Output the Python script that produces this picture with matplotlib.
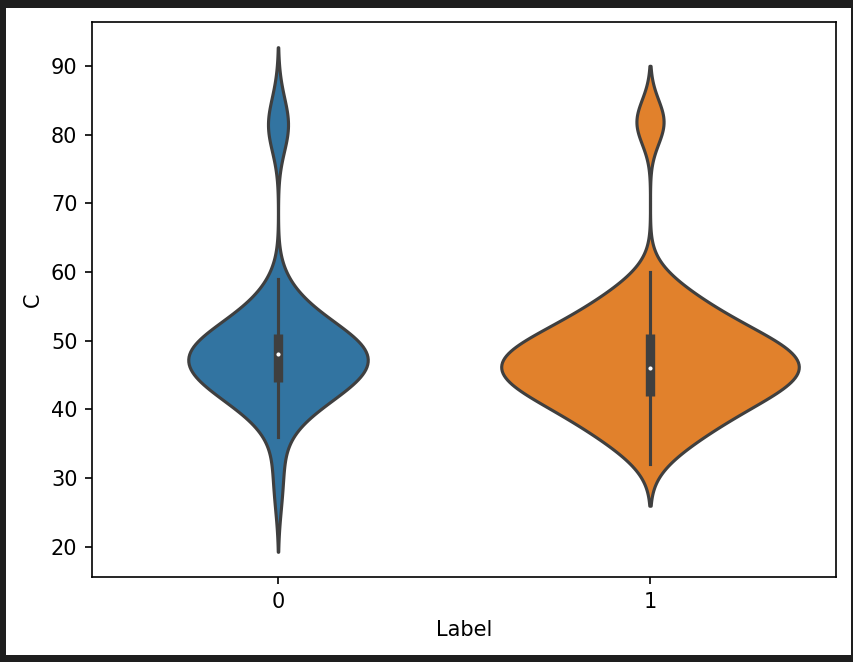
import numpy as np
import matplotlib.pyplot as plt
from matplotlib.patches import Rectangle

# ---------- Data ----------
LABELS = ["0", "1"]

# C values and the number of rows holding each value, per label
c_vals_0 = [26, 29, 31, 33,
            36, 37, 38, 39, 40, 41, 42, 43, 44, 45, 46, 47,
            48, 49, 50, 51, 52, 53, 54, 55, 56, 57, 58, 59,
            78, 80, 81, 82, 83, 86]
c_counts_0 = [1, 1, 1, 1,
              1, 1, 1, 2, 3, 4, 5, 6, 7, 8, 8, 8,
              10, 8, 8, 6, 5, 4, 3, 2, 2, 1, 1, 1,
              1, 1, 2, 2, 1, 1]

c_vals_1 = [32, 33, 34, 35, 36, 37, 38, 39, 40, 41, 42, 43, 44, 45, 46,
            47, 48, 49, 50, 51, 52, 53, 54, 55, 56, 57, 58, 59, 60,
            80, 81, 82, 83, 84]
c_counts_1 = [1, 2, 2, 3, 4, 5, 5, 6, 7, 8, 9, 10, 12, 12, 12,
              12, 12, 11, 10, 8, 7, 6, 5, 5, 4, 3, 2, 2, 1,
              1, 2, 3, 1, 1]

# ---------- Style ----------
COLORS = ["#3274a1", "#e1812c"]
GRAY = "#3f3f3f"
BANDWIDTH = [3.35, 3.0]
CUT = 2
MAX_HALF_WIDTH = 0.4
LW = 1.5


def kde(data, bw, cut=CUT, gridsize=200):
    """Gaussian kernel density on a grid stretched cut*bw past the data."""
    support = np.linspace(data.min() - cut * bw, data.max() + cut * bw, gridsize)
    z = (support[:, None] - data[None, :]) / bw
    dens = np.exp(-0.5 * z ** 2).sum(axis=1) / (len(data) * bw * np.sqrt(2 * np.pi))
    return support, dens


def draw_box(ax, data, center):
    q25, q50, q75 = np.percentile(data, [25, 50, 75])
    lim = 1.5 * (q75 - q25)
    lo = data[data >= q25 - lim].min()
    hi = data[data <= q75 + lim].max()
    ax.plot([center, center], [lo, hi], color=GRAY, linewidth=LW)
    ax.plot([center, center], [q25, q75], color=GRAY, linewidth=LW * 3,
            solid_capstyle="butt")
    ax.scatter(center, q50, s=(LW * 2) ** 2, color="white", edgecolor=GRAY,
               zorder=3)


groups = [np.repeat(c_vals_0, c_counts_0).astype(float),
          np.repeat(c_vals_1, c_counts_1).astype(float)]
n_max = max(len(g) for g in groups)

fig = plt.figure(figsize=(853 / 150, 662 / 150), dpi=150, facecolor="#1e1e1e")
# white page inside the dark screenshot frame
fig.patches.append(Rectangle((6 / 853, 7 / 662), 845 / 853, 647 / 662,
                             transform=fig.transFigure, facecolor="white",
                             edgecolor="none", zorder=-10))
ax = fig.add_axes([92 / 853, 85 / 662, 744 / 853, 555 / 662])

for i, data in enumerate(groups):
    support, dens = kde(data, BANDWIDTH[i])
    # each violin as wide as its share of rows
    half = MAX_HALF_WIDTH * dens / dens.max() * len(data) / n_max
    ax.fill_betweenx(support, i - half, i + half, facecolor=COLORS[i],
                     edgecolor=GRAY, linewidth=LW)
    draw_box(ax, data, i)

ax.set_xlim(-0.5, 1.5)
ax.set_xticks(range(len(LABELS)))
ax.set_xticklabels(LABELS)
ax.set_yticks(range(20, 91, 10))
ax.set_xlabel("Label")
ax.set_ylabel("C")

fig.savefig("out.png", dpi=150, facecolor=fig.get_facecolor())
